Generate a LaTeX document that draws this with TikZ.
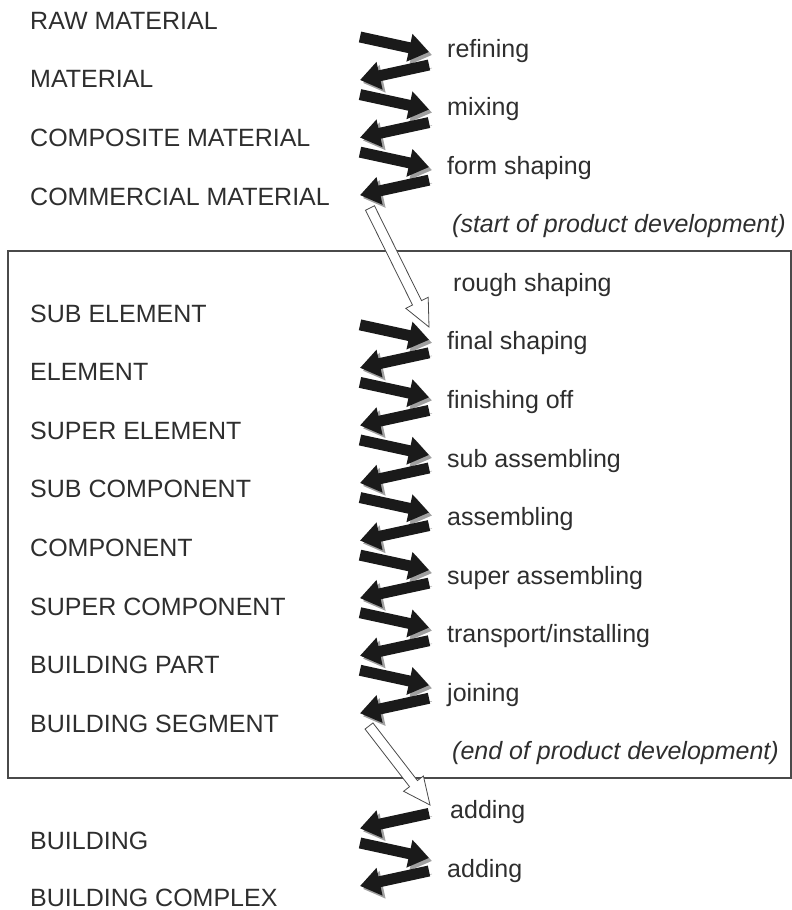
\documentclass[tikz,border=0pt]{standalone}
\usepackage{fontspec}
\setmainfont{Liberation Sans}
\usepackage{tikz}
\usetikzlibrary{arrows.meta,calc}
\definecolor{txtgray}{HTML}{2E2E2E}
\definecolor{arrowblack}{HTML}{1A1A1A}
\definecolor{shadowgray}{HTML}{A0A0A0}
\definecolor{framegray}{HTML}{4A4A4A}

\tikzset{
  stagetext/.style={text=txtgray, font=\fontsize{25}{30}\selectfont, inner sep=0pt, anchor=base west},
  proctext/.style={stagetext},
  notetext/.style={stagetext, font=\fontsize{25}{30}\selectfont\itshape},
  flow/.style={draw=arrowblack, line width=11pt, -{Triangle[length=20pt,width=27pt]},
    preaction={draw=shadowgray, transform canvas={xshift=3pt,yshift=-3pt}}},
  devflow/.style={draw=framegray, fill=white, line width=0.8pt, line join=miter},
  frame/.style={draw=framegray, line width=1.3pt}
}

% open block arrow from #1 to #2
\newcommand{\devarrow}[2]{%
  \draw[devflow] ($(#1)!5pt!90:(#2)$)
    -- ($(#2)!27pt!(#1)!5pt!-90:(#1)$)
    -- ($(#2)!27pt!(#1)!12.5pt!-90:(#1)$)
    -- (#2)
    -- ($(#2)!27pt!(#1)!12.5pt!90:(#1)$)
    -- ($(#2)!27pt!(#1)!5pt!90:(#1)$)
    -- ($(#1)!5pt!-90:(#2)$) -- cycle;}

\begin{document}
\begin{tikzpicture}[x=1pt, y=-1pt]
\useasboundingbox (0,0) rectangle (792,910);

% product development frame
\coordinate (frame-nw) at (8,251);
\coordinate (frame-se) at (791,778);
\draw[frame] (frame-nw) rectangle (frame-se);

% stages
\node[stagetext] (raw)   at (30,29.2)  {RAW MATERIAL};
\node[stagetext] (mat)   at (30,87.8)  {MATERIAL};
\node[stagetext] (compo) at (30,146.4) {COMPOSITE MATERIAL};
\node[stagetext] (comm)  at (30,205.0) {COMMERCIAL MATERIAL};
\node[stagetext] (subel) at (30,322.1) {SUB ELEMENT};
\node[stagetext] (el)    at (30,380.7) {ELEMENT};
\node[stagetext] (supel) at (30,439.3) {SUPER ELEMENT};
\node[stagetext] (subco) at (30,497.9) {SUB COMPONENT};
\node[stagetext] (co)    at (30,556.5) {COMPONENT};
\node[stagetext] (supco) at (30,615.0) {SUPER COMPONENT};
\node[stagetext] (part)  at (30,673.6) {BUILDING PART};
\node[stagetext] (seg)   at (30,732.2) {BUILDING SEGMENT};
\node[stagetext] (bld)   at (30,849.4) {BUILDING};
\node[stagetext] (cplx)  at (30,906.5) {BUILDING COMPLEX};

% processes
\node[proctext] (refine) at (447,57.0)  {refining};
\node[proctext] (mix)    at (447,115.6) {mixing};
\node[proctext] (form)   at (447,174.2) {form shaping};
\node[notetext] (startdev) at (452,232.7) {(start of product development)};
\node[proctext] (rough)  at (453,291.3) {rough shaping};
\node[proctext] (final)  at (447,349.9) {final shaping};
\node[proctext] (finish) at (447,408.5) {finishing off};
\node[proctext] (subas)  at (447,467.0) {sub assembling};
\node[proctext] (asm)    at (447,525.6) {assembling};
\node[proctext] (supas)  at (447,584.2) {super assembling};
\node[proctext] (trans)  at (447,642.8) {transport/installing};
\node[proctext] (join)   at (447,701.3) {joining};
\node[notetext] (enddev) at (452,759.9) {(end of product development)};
\node[proctext] (adda)   at (450,818.5) {adding};
\node[proctext] (addb)   at (447,877.1) {adding};

% forward arrows
\foreach \i in {0,1,2,5,6,7,8,9,10,11,14}{
  \coordinate (in\i-a) at (360,37+57.57*\i);
  \coordinate (in\i-b) at (429,52+57.57*\i);
  \draw[flow] (in\i-a) -- (in\i-b);
}
% return arrows
\foreach \i in {0,1,2,5,6,7,8,9,10,11,13,14}{
  \coordinate (out\i-a) at (429,65+57.57*\i);
  \coordinate (out\i-b) at (360,80+57.57*\i);
  \draw[flow] (out\i-a) -- (out\i-b);
}

% into and out of product development
\coordinate (devstart-a) at (370,208);
\coordinate (devstart-b) at (429,327);
\coordinate (devend-a) at (369,726);
\coordinate (devend-b) at (430,805);
\devarrow{devstart-a}{devstart-b}
\devarrow{devend-a}{devend-b}
\end{tikzpicture}
\end{document}
